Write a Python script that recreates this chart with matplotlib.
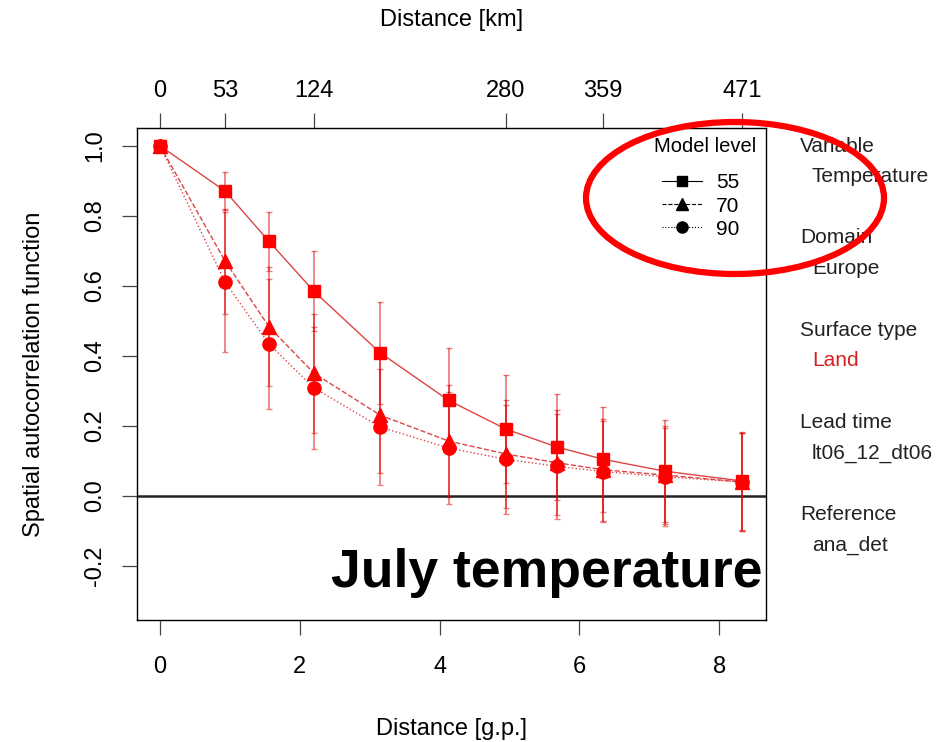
import matplotlib
matplotlib.use("Agg")
import matplotlib.pyplot as plt
from matplotlib.patches import Ellipse
from matplotlib.lines import Line2D

plt.rcParams['font.family'] = ['Liberation Sans', 'DejaVu Sans']

# distances in grid points, and km labels for the top axis
dist_gp = [0, 0.93, 1.56, 2.20, 3.15, 4.13, 4.95, 5.68, 6.34, 7.22, 8.33]
km_gp = [0, 0.93, 2.20, 4.95, 6.34, 8.33]
km_labels = ["0", "53", "124", "280", "359", "471"]

levels = ["55", "70", "90"]
acf_55 = [1.0, 0.871, 0.727, 0.585, 0.409, 0.273, 0.191, 0.140, 0.105, 0.071, 0.043]
acf_70 = [1.0, 0.671, 0.483, 0.351, 0.231, 0.157, 0.120, 0.095, 0.075, 0.060, 0.040]
acf_90 = [1.0, 0.611, 0.434, 0.309, 0.197, 0.137, 0.105, 0.085, 0.070, 0.055, 0.040]
sd_55 = [0.0, 0.053, 0.085, 0.115, 0.145, 0.150, 0.155, 0.150, 0.150, 0.145, 0.140]
sd_70 = [0.0, 0.150, 0.170, 0.170, 0.165, 0.160, 0.155, 0.150, 0.145, 0.140, 0.140]
sd_90 = [0.0, 0.200, 0.185, 0.175, 0.165, 0.160, 0.155, 0.150, 0.145, 0.140, 0.140]

side_heads = ["Variable", "Domain", "Surface type", "Lead time", "Reference"]
side_values = ["Temperature", "Europe", "Land", "lt06_12_dt06", "ana_det"]

fig = plt.figure(figsize=(9.37, 7.42), dpi=100)
ax = fig.add_axes([137/937, 122/742, 629/937, 492/742])

styles = [("-", "s", 9), ("--", "^", 9.5), (":", "o", 9.5)]
series = [(acf_55, sd_55), (acf_70, sd_70), (acf_90, sd_90)]
for (vals, sd), (ls, mk, ms) in zip(series, styles):
    ax.errorbar(dist_gp, vals, yerr=sd, fmt="none", ecolor="#e00000",
                elinewidth=1.3, capsize=2, alpha=0.5, zorder=2)
    ax.plot(dist_gp, vals, ls=ls, color="#dd4444", lw=1.0, zorder=3)
    ax.plot(dist_gp, vals, ls="none", marker=mk, ms=ms, color="#ff0000",
            mec="#ff0000", zorder=4)

ax.axhline(0, color="#222222", lw=1.8, zorder=1)

ax.set_xlim(-0.33, 8.67)
ax.set_ylim(-0.354, 1.051)
ax.set_xticks([0, 2, 4, 6, 8])
ax.set_yticks([-0.2, 0.0, 0.2, 0.4, 0.6, 0.8, 1.0])
ax.set_yticklabels(["-0.2", "0.0", "0.2", "0.4", "0.6", "0.8", "1.0"],
                   rotation=90, va="center")
ax.tick_params(axis="x", labelsize=17, length=11, width=0.9, pad=15, color="#444444")
ax.tick_params(axis="y", labelsize=17, length=11, width=0.9, pad=11, color="#444444")
for s in ax.spines.values():
    s.set_linewidth(1.0)
    s.set_color("#333333")
ax.set_xlabel("Distance [g.p.]", fontsize=17)
ax.xaxis.set_label_coords(0.5, (620 - 729) / 492)
ax.xaxis.label.set_va("center")
ax.set_ylabel("Spatial autocorrelation function", fontsize=17)
ax.yaxis.set_label_coords((34 - 137) / 629, 0.5)
ax.yaxis.label.set_va("center")

top = ax.twiny()
top.set_xlim(ax.get_xlim())
top.set_xticks(km_gp)
top.set_xticklabels(km_labels)
top.tick_params(labelsize=17, length=11, width=0.9, pad=8, color="#444444")
top.set_xlabel("Distance [km]", fontsize=17)
top.xaxis.set_label_coords(0.5, (620 - 20) / 492)
top.xaxis.label.set_va("center")

# legend, with its title as a separate text
handles = [Line2D([], [], ls=ls, marker=mk, ms=ms - 1.5, color="black", lw=0.8)
           for ls, mk, ms in styles]
ax.legend(handles, levels, loc="upper right",
          frameon=False, fontsize=15, handlelength=1.9,
          handletextpad=0.7, labelspacing=0.2, borderpad=0,
          bbox_to_anchor=((750 - 137) / 629, (620 - 163) / 492))
ax.text((705 - 137) / 629, (620 - 146) / 492, "Model level",
        transform=ax.transAxes, ha="center", va="center", fontsize=14.5)

ax.text(0.995, (620 - 573) / 492, "July temperature", transform=ax.transAxes,
        ha="right", va="center", fontsize=38.5, fontweight="bold")

# annotation panel on the right
y0 = 1 - 146/742
step = 92/742
for i, (h, v) in enumerate(zip(side_heads, side_values)):
    y = y0 - i * step
    fig.text(800/937, y, h, fontsize=15, va="center", color="#222222")
    fig.text(812/937, y - 31/742, v, fontsize=15, va="center",
             color="#d62020" if h == "Surface type" else "#222222")

fig.add_artist(Ellipse((735/937, 1 - 198/742), 298/937, 152/742,
                       transform=fig.transFigure, fill=False,
                       edgecolor="#ff0000", lw=4.5, zorder=10))

fig.savefig("out.png", dpi=100)
